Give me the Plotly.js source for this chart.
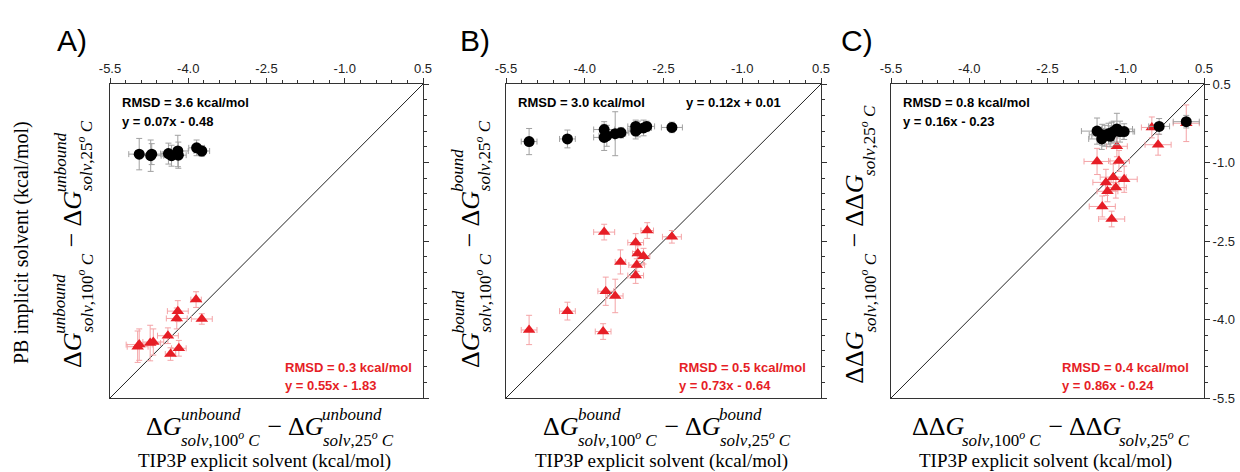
<!DOCTYPE html>
<html><head><meta charset="utf-8">
<script src="https://cdn.plot.ly/plotly-3.0.1.min.js"></script>
<style>html,body{margin:0;padding:0;background:#fff}</style>
</head><body><div id="chart" style="width:1240px;height:472px"></div>
<script>
// ---- shared axis data ----
const axisRange = [-5.5, 0.5];
const tickValues = [-5.5, -4.0, -2.5, -1.0, 0.5];
const tickLabels = ['-5.5', '-4.0', '-2.5', '-1.0', '0.5'];
const identityLine = [-5.5, 0.5];
const panelLetters = ['A)', 'B)', 'C)'];

// ---- Panel A (unbound) ----
const aBlackX = [-4.94, -4.72, -4.70, -4.38, -4.32, -4.20, -4.19, -3.84, -3.74];
const aBlackY = [-0.84, -0.87, -0.84, -0.83, -0.87, -0.78, -0.86, -0.72, -0.78];
const aBlackXErr = [0.20, 0.20, 0.20, 0.15, 0.15, 0.20, 0.15, 0.15, 0.15];
const aBlackYErr = [0.30, 0.30, 0.20, 0.20, 0.20, 0.30, 0.25, 0.15, 0.10];
const aRedX = [-3.85, -4.20, -4.22, -3.74, -4.39, -4.94, -4.97, -4.73, -4.67, -4.18, -4.34];
const aRedY = [-3.62, -3.84, -3.98, -3.99, -4.31, -4.48, -4.52, -4.45, -4.43, -4.55, -4.66];
const aRedXErr = [0.10, 0.20, 0.20, 0.20, 0.20, 0.25, 0.20, 0.20, 0.20, 0.14, 0.10];
const aRedYErr = [0.15, 0.20, 0.20, 0.10, 0.15, 0.30, 0.30, 0.34, 0.25, 0.15, 0.12];
const aTexts = ['RMSD = 3.6 kcal/mol', 'y = 0.07x - 0.48', 'RMSD = 0.3 kcal/mol', 'y = 0.55x - 1.83'];

// ---- Panel B (bound) ----
const bBlackX = [-5.06, -4.33, -3.63, -3.63, -3.58, -3.42, -3.31, -3.03, -3.03, -2.99, -2.88, -2.82, -2.34];
const bBlackY = [-0.60, -0.55, -0.37, -0.52, -0.49, -0.45, -0.43, -0.31, -0.40, -0.36, -0.34, -0.31, -0.33];
const bBlackXErr = [0.15, 0.15, 0.20, 0.20, 0.15, 0.20, 0.15, 0.15, 0.15, 0.15, 0.15, 0.15, 0.20];
const bBlackYErr = [0.25, 0.17, 0.15, 0.25, 0.20, 0.42, 0.10, 0.12, 0.15, 0.15, 0.15, 0.10, 0.10];
const bRedX = [-5.06, -4.33, -3.63, -3.60, -3.42, -3.32, -3.03, -3.01, -3.03, -2.99, -2.88, -3.65, -2.81, -2.34];
const bRedY = [-4.20, -3.84, -2.33, -3.46, -3.55, -2.90, -2.53, -2.96, -3.16, -2.74, -2.79, -4.23, -2.30, -2.42];
const bRedXErr = [0.15, 0.15, 0.20, 0.15, 0.15, 0.10, 0.15, 0.15, 0.15, 0.10, 0.12, 0.15, 0.12, 0.18];
const bRedYErr = [0.28, 0.17, 0.15, 0.27, 0.32, 0.23, 0.17, 0.12, 0.15, 0.15, 0.15, 0.15, 0.15, 0.12];
const bTexts = ['RMSD = 3.0 kcal/mol', 'y = 0.12x + 0.01', 'RMSD = 0.5 kcal/mol', 'y = 0.73x - 0.64'];

// ---- Panel C (binding) ----
const cBlackX = [-1.55, -1.46, -1.40, -1.33, -1.27, -1.23, -1.17, -1.11, -1.03, -0.36, 0.16, -1.45, -1.30];
const cBlackY = [-0.40, -0.55, -0.49, -0.45, -0.43, -0.41, -0.36, -0.41, -0.41, -0.31, -0.22, -0.47, -0.50];
const cBlackXErr = [0.30, 0.25, 0.25, 0.25, 0.25, 0.25, 0.30, 0.25, 0.20, 0.20, 0.25, 0.25, 0.25];
const cBlackYErr = [0.25, 0.20, 0.20, 0.20, 0.20, 0.20, 0.30, 0.20, 0.15, 0.15, 0.12, 0.20, 0.20];
const cRedX = [-1.55, -1.17, -1.13, -1.24, -1.03, -1.38, -1.35, -1.19, -1.45, -0.50, -0.38, 0.16, -1.27];
const cRedY = [-0.98, -0.69, -0.97, -1.28, -1.32, -1.38, -1.55, -1.48, -1.84, -0.33, -0.66, -0.25, -2.08];
const cRedXErr = [0.25, 0.20, 0.20, 0.25, 0.25, 0.25, 0.20, 0.20, 0.25, 0.20, 0.25, 0.25, 0.25];
const cRedYErr = [0.25, 0.20, 0.20, 0.25, 0.25, 0.25, 0.20, 0.20, 0.20, 0.20, 0.20, 0.35, 0.15];
const cTexts = ['RMSD = 0.8 kcal/mol', 'y = 0.16x - 0.23', 'RMSD = 0.4 kcal/mol', 'y = 0.86x - 0.24'];

// ---- axis title texts ----
const yTitleOuter = 'PB implicit solvent (kcal/mol)';
const xTitleLower = 'TIP3P explicit solvent (kcal/mol)';
const supO = '<sup><i>o</i></sup>';
const labelUnbound = [{base: 'Δ<i>G</i>', baseW: 'ΔG', sup: 'unbound', sub: ',100' + supO + ' <i>C</i>', subW: 'solv,100o C'}, {op: ' − '},
                      {base: 'Δ<i>G</i>', baseW: 'ΔG', sup: 'unbound', sub: ',25' + supO + ' <i>C</i>', subW: 'solv,25o C'}];
const labelBound = [{base: 'Δ<i>G</i>', baseW: 'ΔG', sup: 'bound', sub: ',100' + supO + ' <i>C</i>', subW: 'solv,100o C'}, {op: ' − '},
                    {base: 'Δ<i>G</i>', baseW: 'ΔG', sup: 'bound', sub: ',25' + supO + ' <i>C</i>', subW: 'solv,25o C'}];
const labelBinding = [{base: 'ΔΔ<i>G</i>', baseW: 'ΔΔG', sub: ',100' + supO + ' <i>C</i>', subW: 'solv,100o C'}, {op: ' − '},
                      {base: 'ΔΔ<i>G</i>', baseW: 'ΔΔG', sub: ',25' + supO + ' <i>C</i>', subW: 'solv,25o C'}];

// ---- page geometry (pixels) ----
const W = 1240, H = 472;
const boxTop = 84, boxBottom = 398;
const panelsPx = [[110, 423], [506, 821], [891, 1204]];
const px = v => v / W, py = v => 1 - v / H;

const RED = '#e61e26';
const SERIF = '"Liberation Serif", "Times New Roman", serif';
const SANS = '"Liberation Sans", Arial, sans-serif';

const ctx = document.createElement('canvas').getContext('2d');
function measure(text, size, italic) {
  ctx.font = (italic ? 'italic ' : '') + size + 'px "Liberation Serif"';
  return ctx.measureText(text).width;
}

const BASE = 26, SMALL = 17, SUPOFF = 12, SUBOFF = 13;
function mathLabel(groups, cx, cy, rotated, anns) {
  const items = [];
  let s = 0;
  groups.forEach(g => {
    if (g.op) {
      const w = measure(g.op, BASE, false);
      items.push({t: g.op, size: BASE, s: s + w / 2, off: 0});
      s += w;
    } else {
      const wb = measure(g.baseW, BASE, true) + 1;
      items.push({t: g.base, size: BASE, s: s + wb / 2, off: 0});
      s += wb - 1;
      const ws = g.sup ? measure(g.sup, SMALL, true) : 0;
      const wu = g.sub ? measure(g.subW, SMALL, true) : 0;
      if (g.sup) items.push({t: '<i>' + g.sup + '</i>', size: SMALL, s: s + ws / 2, off: -SUPOFF});
      if (g.sub) items.push({t: '<i>solv</i>' + g.sub, size: SMALL, s: s + wu / 2, off: SUBOFF});
      s += Math.max(ws, wu);
    }
  });
  const total = s;
  items.forEach(it => {
    let x, y;
    if (!rotated) { x = cx - total / 2 + it.s; y = cy + it.off; }
    else { x = cx + it.off; y = cy + total / 2 - it.s; }
    anns.push({xref: 'paper', yref: 'paper', x: px(x), y: py(y), xanchor: 'center', yanchor: 'middle',
      text: it.t, showarrow: false, textangle: rotated ? -90 : 0,
      font: {family: SERIF, size: it.size, color: '#000'}});
  });
}

const traces = [];
const annotations = [];
const layout = {
  width: W, height: H, margin: {l: 0, r: 0, t: 0, b: 0},
  paper_bgcolor: '#fff', plot_bgcolor: '#fff', showlegend: false,
  annotations: annotations
};

const panels = [
  {bx: aBlackX, by: aBlackY, bxe: aBlackXErr, bye: aBlackYErr, rx: aRedX, ry: aRedY, rxe: aRedXErr, rye: aRedYErr, texts: aTexts, label: labelUnbound, sameRow: false},
  {bx: bBlackX, by: bBlackY, bxe: bBlackXErr, bye: bBlackYErr, rx: bRedX, ry: bRedY, rxe: bRedXErr, rye: bRedYErr, texts: bTexts, label: labelBound, sameRow: true},
  {bx: cBlackX, by: cBlackY, bxe: cBlackXErr, bye: cBlackYErr, rx: cRedX, ry: cRedY, rxe: cRedXErr, rye: cRedYErr, texts: cTexts, label: labelBinding, sameRow: false}
];

panels.forEach((p, i) => {
  const n = i === 0 ? '' : String(i + 1);
  const xa = 'x' + n, ya = 'y' + n;
  const [l, r] = panelsPx[i];
  const axBase = {
    range: axisRange, tickmode: 'array', tickvals: tickValues, ticktext: tickLabels,
    ticks: 'outside', ticklen: 5, tickwidth: 1, tickcolor: '#333',
    minor: {tickmode: 'linear', tick0: -5.5, dtick: 0.3, ticks: 'outside', ticklen: 3, tickcolor: '#333', showgrid: false},
    showline: true, mirror: true, linecolor: '#333', linewidth: 1,
    showgrid: false, zeroline: false, fixedrange: true,
    tickfont: {family: SANS, size: 13, color: '#222'}
  };
  layout['xaxis' + n] = Object.assign({}, axBase, {domain: [px(l), px(r)], side: 'top', anchor: ya});
  layout['yaxis' + n] = Object.assign({}, axBase, {domain: [py(boxBottom), py(boxTop)], side: 'right', anchor: xa,
    showticklabels: i === 2});

  traces.push({x: identityLine, y: identityLine, xaxis: xa, yaxis: ya, mode: 'lines',
    line: {color: '#222', width: 1}, hoverinfo: 'skip'});
  traces.push({x: p.rx, y: p.ry, xaxis: xa, yaxis: ya, mode: 'markers',
    marker: {symbol: 'triangle-up', size: 11, color: RED},
    error_x: {type: 'data', array: p.rxe, color: '#f4a3a6', thickness: 1, width: 3},
    error_y: {type: 'data', array: p.rye, color: '#f4a3a6', thickness: 1, width: 3}});
  traces.push({x: p.bx, y: p.by, xaxis: xa, yaxis: ya, mode: 'markers',
    marker: {symbol: 'circle', size: 11, color: '#000'},
    error_x: {type: 'data', array: p.bxe, color: '#a0a0a0', thickness: 1, width: 3},
    error_y: {type: 'data', array: p.bye, color: '#a0a0a0', thickness: 1, width: 3}});

  const addT = (t, x, y, c) => annotations.push({xref: 'paper', yref: 'paper', x: px(x), y: py(y), xanchor: 'left', yanchor: 'middle',
    text: '<b>' + t + '</b>', showarrow: false, font: {family: SANS, size: 13, color: c}});
  if (p.sameRow) {
    addT(p.texts[0], l + 10, 103, '#000');
    addT(p.texts[1], l + 178, 103, '#000');
  } else {
    addT(p.texts[0], l + 10, 103, '#000');
    addT(p.texts[1], l + 10, 122, '#000');
  }
  const redL = [283, 677, 1060][i];
  addT(p.texts[2], redL, 367, RED);
  addT(p.texts[3], redL, 385, RED);

  const letterX = [72, 475, 857][i];
  annotations.push({xref: 'paper', yref: 'paper', x: px(letterX), y: py(41), xanchor: 'center', yanchor: 'middle',
    text: panelLetters[i], showarrow: false, font: {family: SANS, size: 30, color: '#000'}});

  const cx = (l + r) / 2 + 4;
  mathLabel(p.label, cx, 426, false, annotations);
  annotations.push({xref: 'paper', yref: 'paper', x: px(cx - 6), y: py(461), xanchor: 'center', yanchor: 'middle',
    text: xTitleLower, showarrow: false, font: {family: SERIF, size: 19, color: '#000'}});
  const rx = [72, 470, 855][i];
  mathLabel(p.label, rx, 244, true, annotations);
});

annotations.push({xref: 'paper', yref: 'paper', x: px(22), y: py(243), xanchor: 'center', yanchor: 'middle',
  text: yTitleOuter, textangle: -90, showarrow: false, font: {family: SERIF, size: 20, color: '#000'}});

Plotly.newPlot('chart', traces, layout, {staticPlot: true, displayModeBar: false});
</script>
</body></html>
